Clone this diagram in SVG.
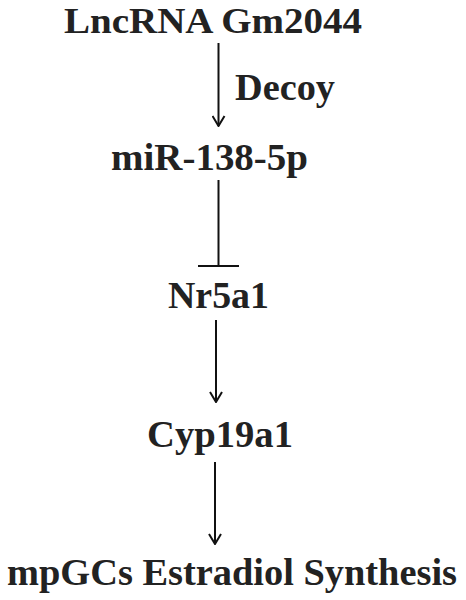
<svg xmlns="http://www.w3.org/2000/svg" width="466" height="600" viewBox="0 0 466 600">
<style>
.t{font-family:"Liberation Serif","Times New Roman",serif;font-weight:bold;font-size:38px;fill:#222;text-anchor:middle}
.c{stroke:#111;stroke-width:2;fill:none}
</style>
<defs>
<marker id="ah" viewBox="0 0 12 14" refX="11" refY="7" markerWidth="12" markerHeight="14" markerUnits="userSpaceOnUse" orient="auto">
<path d="M1,1 L11,7 L1,13" fill="none" stroke="#111" stroke-width="2"/>
</marker>
</defs>
<rect width="466" height="600" fill="#fff"/>
<g id="connectors">
<line class="c" x1="218.5" y1="43" x2="218.5" y2="126" marker-end="url(#ah)"/>
<line class="c" x1="218.5" y1="180" x2="218.5" y2="266"/>
<line class="c" x1="198" y1="266" x2="239" y2="266"/>
<line class="c" x1="216" y1="320" x2="216" y2="402" marker-end="url(#ah)"/>
<line class="c" x1="215" y1="462" x2="215" y2="544" marker-end="url(#ah)"/>
</g>
<g id="lncrna"><text class="t" x="213" y="32.5" font-size="36" textLength="298" lengthAdjust="spacingAndGlyphs" style="font-size:36px">LncRNA Gm2044</text></g>
<g id="decoy"><text class="t" x="285" y="100" textLength="100" lengthAdjust="spacingAndGlyphs">Decoy</text></g>
<g id="mir"><text class="t" x="209.5" y="170" textLength="197" lengthAdjust="spacingAndGlyphs">miR-138-5p</text></g>
<g id="nr5a1"><text class="t" x="218.5" y="308" textLength="101" lengthAdjust="spacingAndGlyphs">Nr5a1</text></g>
<g id="cyp19a1"><text class="t" x="220" y="447" textLength="146" lengthAdjust="spacingAndGlyphs">Cyp19a1</text></g>
<g id="synthesis"><text class="t" x="232" y="585" textLength="450" lengthAdjust="spacingAndGlyphs">mpGCs Estradiol Synthesis</text></g>
</svg>
